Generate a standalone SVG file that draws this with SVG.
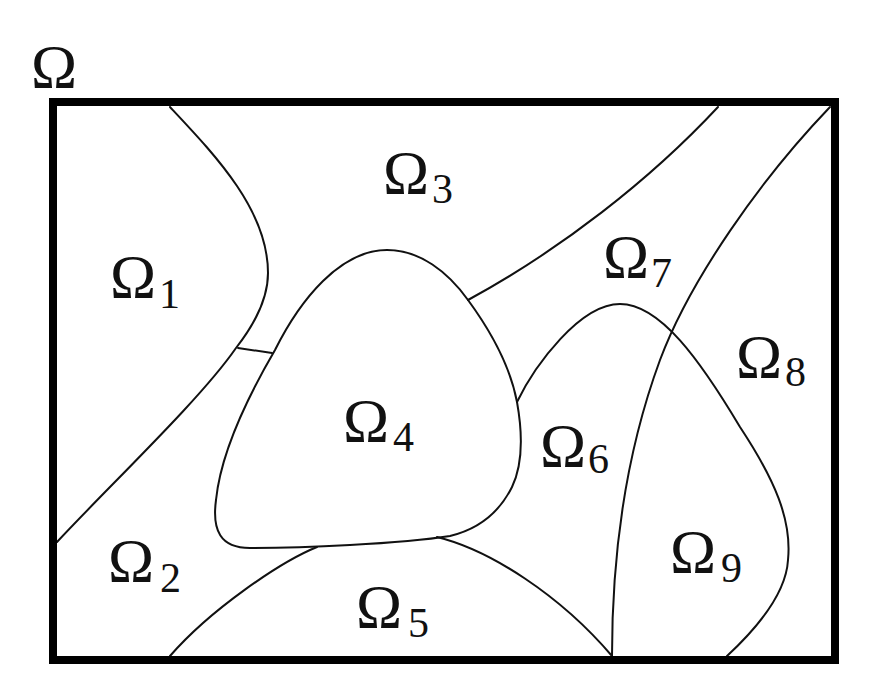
<svg xmlns="http://www.w3.org/2000/svg" width="882" height="688" viewBox="0 0 882 688">
<style>
.c{fill:none;stroke:#111;stroke-width:2;stroke-linejoin:round;stroke-linecap:round}
.o{font-family:"Liberation Serif","DejaVu Serif",serif;font-size:62px;fill:#111}
.s{font-family:"Liberation Serif","DejaVu Serif",serif;font-size:42px;fill:#111}
</style>
<rect width="882" height="688" fill="#fff"/>
<g id="curves">
<path class="c" d="M170,107 C215,155 268,210 268,273 C268,298 254,325 236,348 C200,400 110,485 57,542"/>
<path class="c" d="M238,348 L272,353"/>
<path class="c" d="M275,350 C300,300 340,250 387,250 C420,250 448,272 468,300 C490,330 510,365 517,402 C522,430 524,462 512,487 C498,515 475,530 450,536 C400,544 300,548 250,548 C220,548 212,530 216,500 C220,460 240,410 275,350 Z"/>
<path class="c" d="M718,107 C650,180 560,250 468,300"/>
<path class="c" d="M830,107 C760,180 690,280 660,360 C625,455 612,560 612,656"/>
<path class="c" d="M517,402 C535,365 580,304 620,304 C660,304 700,360 740,427 C775,480 792,520 788,560 C786,595 755,630 727,656"/>
<path class="c" d="M317,547 C280,562 210,610 170,656"/>
<path class="c" d="M437,537 C490,550 560,595 612,656"/>
</g>
<rect id="domain" x="53" y="102" width="782" height="558" fill="none" stroke="#000" stroke-width="8"/>
<g id="labels">
<text class="o" x="31" y="87">Ω</text>
<g id="o1"><text class="o" x="110" y="297">Ω</text><text class="s" x="159" y="308">1</text></g>
<g id="o2"><text class="o" x="108" y="581">Ω</text><text class="s" x="160" y="592">2</text></g>
<g id="o3"><text class="o" x="383" y="193">Ω</text><text class="s" x="432" y="203">3</text></g>
<g id="o4"><text class="o" x="343" y="441">Ω</text><text class="s" x="393" y="451">4</text></g>
<g id="o5"><text class="o" x="356" y="627">Ω</text><text class="s" x="408" y="637">5</text></g>
<g id="o6"><text class="o" x="540" y="466">Ω</text><text class="s" x="588" y="473">6</text></g>
<g id="o7"><text class="o" x="603" y="277">Ω</text><text class="s" x="651" y="287">7</text></g>
<g id="o8"><text class="o" x="736" y="377">Ω</text><text class="s" x="785" y="386">8</text></g>
<g id="o9"><text class="o" x="670" y="572">Ω</text><text class="s" x="721" y="582">9</text></g>
</g>
</svg>
